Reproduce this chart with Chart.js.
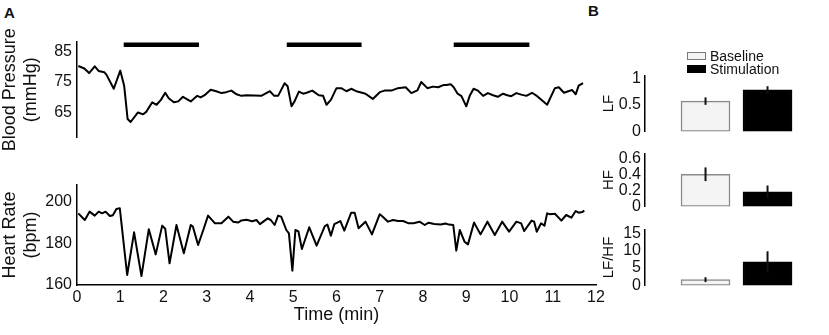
<!DOCTYPE html>
<html>
<head>
<meta charset="utf-8">
<script src="https://cdn.jsdelivr.net/npm/chart.js@4.4.1/dist/chart.umd.min.js"></script>
<style>
  html, body { margin: 0; padding: 0; background: #fff; }
  body { width: 829px; height: 335px; position: relative; overflow: hidden;
         font-family: 'Liberation Sans', Arial, sans-serif; color: #111; }
  .box { position: absolute; }
  .panel { position: absolute; font-weight: bold; font-size: 15px; line-height: 15px; }
  .leg { position: absolute; left: 687px; height: 14px; display: flex; align-items: center;
         font-size: 14px; line-height: 14px; }
  .leg i { display: inline-block; width: 19px; height: 8px; margin-right: 4px; box-sizing: border-box; }
</style>
</head>
<body>
<div class="panel" style="left:4px;top:5px">A</div>
<div class="panel" style="left:588px;top:3px">B</div>

<div class="box" style="left:0;top:0;width:610px;height:152px"><canvas id="bp"></canvas></div>
<div class="box" style="left:0;top:160px;width:610px;height:175px"><canvas id="hr"></canvas></div>
<div class="box" style="left:600px;top:62px;width:229px;height:83px"><canvas id="lf"></canvas></div>
<div class="box" style="left:600px;top:140px;width:229px;height:80px"><canvas id="hf"></canvas></div>
<div class="box" style="left:600px;top:216px;width:229px;height:83px"><canvas id="ratio"></canvas></div>

<div class="leg" style="top:49px"><i style="background:#f4f4f4;border:1px solid #777"></i>Baseline</div>
<div class="leg" style="top:62px"><i style="background:#000"></i>Stimulation</div>

<script>
// Panel A: time (min) vs blood pressure / heart rate
const bpTime = [0.03, 0.17, 0.28, 0.41, 0.5, 0.63, 0.68, 0.85, 1.0, 1.09, 1.17, 1.24, 1.41, 1.53, 1.6,
  1.74, 1.84, 1.94, 2.04, 2.12, 2.24, 2.34, 2.45, 2.53, 2.63, 2.78, 2.86, 2.95, 3.09, 3.22, 3.34, 3.45,
  3.57, 3.69, 3.8, 3.92, 4.26, 4.46, 4.56, 4.65, 4.8, 4.87, 4.96, 5.03, 5.13, 5.23, 5.31, 5.44, 5.59,
  5.69, 5.77, 5.87, 6.0, 6.11, 6.23, 6.34, 6.48, 6.59, 6.67, 6.84, 7.0, 7.11, 7.27, 7.42, 7.6, 7.73,
  7.87, 7.96, 8.1, 8.23, 8.35, 8.47, 8.54, 8.64, 8.71, 8.8, 8.89, 9.0, 9.08, 9.17, 9.27, 9.39, 9.5,
  9.62, 9.73, 9.85, 9.95, 10.04, 10.16, 10.27, 10.39, 10.52, 10.64, 10.77, 10.87, 11.05, 11.14, 11.26,
  11.36, 11.45, 11.53, 11.6, 11.7]
const bpValues = [80.2, 79.4, 77.9, 80.1, 78.6, 78.2, 77.4, 72.8, 78.7, 73.8, 63, 62, 65.1, 64.5, 65.3,
  68.4, 67.6, 69.2, 71.5, 69.7, 68.4, 68.7, 70.2, 69.5, 68.7, 70.5, 70, 70.7, 72.5, 72, 71.4, 71.7,
  72.2, 71, 70.5, 70.7, 70.5, 72, 70.5, 70.5, 74.6, 73.6, 67.1, 68.7, 71.9, 71.2, 71.5, 72.2, 70.7,
  70.5, 67.6, 69.2, 73, 73, 72, 72.8, 71.9, 71.5, 71.2, 69.5, 71.7, 72.2, 72.2, 73, 73.3, 71.4,
  72.3, 75, 73, 73.5, 73.3, 74, 74, 74.3, 73.3, 71.2, 70.4, 67.1, 70.5, 72.8, 72.2, 70.5, 71.4,
  70.7, 70.2, 71.2, 70.7, 70.4, 71.4, 70.9, 70.5, 71.5, 70.4, 68.8, 67.6, 73, 73.3, 71.5,
  72, 72.4, 71, 73.8, 74.6]

const hrTime = [0.03, 0.18, 0.29, 0.41, 0.5, 0.58, 0.66, 0.76, 0.83, 0.91, 0.99, 1.16, 1.32, 1.49, 1.66,
  1.82, 1.97, 2.04, 2.14, 2.3, 2.47, 2.63, 2.68, 2.8, 2.92, 3.03, 3.19, 3.34, 3.5, 3.61, 3.73, 3.8,
  3.92, 4.05, 4.15, 4.23, 4.41, 4.48, 4.57, 4.65, 4.72, 4.84, 4.9, 4.98, 5.05, 5.12, 5.2, 5.37, 5.54,
  5.73, 5.79, 5.87, 5.95, 6.09, 6.18, 6.34, 6.42, 6.51, 6.67, 6.82, 7.0, 7.07, 7.19, 7.31, 7.42, 7.54,
  7.67, 7.78, 7.92, 8.04, 8.13, 8.26, 8.41, 8.52, 8.6, 8.7, 8.77, 8.85, 8.96, 9.04, 9.18, 9.33, 9.49,
  9.66, 9.83, 9.99, 10.16, 10.27, 10.34, 10.51, 10.57, 10.63, 10.73, 10.81, 10.87, 10.93, 11.05, 11.2,
  11.31, 11.43, 11.53, 11.6, 11.68, 11.73]
const hrValues = [194.4, 191.2, 195.2, 193.3, 195.2, 194.4, 195.2, 193.1, 193.5, 196.5, 196.8, 164.8,
  185.3, 164.3, 186.8, 174.7, 188.5, 187, 170.4, 188.8, 175.2, 188.8, 188, 179.2, 186.4, 193.3, 189.6,
  189.6, 192.8, 190.4, 190, 191, 191.3, 190.6, 191.2, 189.2, 192, 191.2, 188.8, 193.3, 192.8, 186.4,
  184.8, 166.9, 186.4, 185.7, 177.3, 187.7, 178.9, 188.3, 189, 183.7, 189.2, 190.7, 186.1, 194.7,
  194.7, 187.2, 190.4, 184.3, 194, 192.8, 190.4, 191.2, 190.7, 190.7, 189.6, 189.6, 190.4, 188.8,
  189.9, 189.3, 189, 189.5, 189, 188.8, 176.5, 186.4, 180.8, 179.5, 190, 184.3, 190.4, 184, 190.4,
  185.6, 190.4, 189.6, 185.9, 190.9, 190.4, 185.6, 189.6, 188.5, 194.4, 194, 194.2, 190.9, 193.6,
  192.3, 195.5, 194.7, 195, 195.7]

// stimulation periods (min), drawn as thick bars above the BP trace
const stimStart = [1.08, 4.85, 8.71]
const stimEnd = [2.82, 6.58, 10.46]
const STIM_LEVEL = 87.1

const bpTicks = [65, 75, 85]
const hrTicks = [160, 180, 200]

// Panel B: spectral power, baseline vs stimulation
const categories = ['Baseline', 'Stimulation']
const lfValues = [0.57, 0.78]
const lfErrors = [0.07, 0.07]
const hfValues = [0.4, 0.18]
const hfErrors = [0.085, 0.08]
const ratioValues = [1.65, 6.8]
const ratioErrors = [0.7, 3.0]
const lfTicks = [0, 0.5, 1]
const hfTicks = [0, 0.2, 0.4, 0.6]
const ratioTicks = [0, 5, 10, 15]

Chart.defaults.font.family = "'Liberation Sans', Arial, sans-serif"
Chart.defaults.color = '#111'
Chart.defaults.animation = false
Chart.defaults.events = []
Chart.defaults.plugins.legend.display = false
Chart.defaults.plugins.tooltip.enabled = false

const axisBorder = { display: true, color: '#000', width: 1.5 }
const noGrid = { display: false, drawTicks: false }
const toPoints = (xs, ys) => xs.map((x, i) => ({ x, y: ys[i] }))
const fixedTicks = (vals) => (scale) => { scale.ticks = vals.map((v) => ({ value: v })) }
const plainLabel = (v) => String(v)

function traceChart(id, points, yMin, yMax, ticks, title, padding, showX, extra) {
  const x = {
    type: 'linear', min: 0, max: 12, display: showX,
    grid: noGrid, border: axisBorder,
    ticks: { stepSize: 1, font: { size: 16 }, padding: 3, maxRotation: 0, autoSkip: false },
    title: { display: true, text: 'Time (min)', font: { size: 18, lineHeight: 1.15 },
             padding: { top: 0, bottom: 10 } }
  }
  if (showX) x.afterFit = (s) => { s.height = 50 }

  return new Chart(document.getElementById(id), {
    type: 'line',
    data: {
      datasets: [
        { data: points, borderColor: '#000', borderWidth: 2, pointRadius: 0,
          borderJoinStyle: 'round', tension: 0 },
        ...(extra || [])
      ]
    },
    options: {
      responsive: true,
      maintainAspectRatio: false,
      layout: { padding },
      scales: {
        x,
        y: {
          min: yMin, max: yMax,
          grid: noGrid, border: axisBorder,
          afterBuildTicks: fixedTicks(ticks),
          ticks: { font: { size: 16 }, padding: 5, autoSkip: false, callback: plainLabel },
          title: { display: true, text: title, font: { size: 18, lineHeight: 1.15 }, padding: 0 },
          afterFit: (s) => { s.width = 77 }
        }
      }
    }
  })
}

// stimulation bars: one line dataset broken by null gaps
const stimPoints = stimStart.flatMap((s, i) => [
  { x: s, y: STIM_LEVEL }, { x: stimEnd[i], y: STIM_LEVEL }, { x: stimEnd[i], y: null }
])

traceChart('bp', toPoints(bpTime, bpValues), 57, 88, bpTicks, ['Blood Pressure', '(mmHg)'],
  { top: 42, bottom: 10, right: 14 }, false,
  [{ data: stimPoints, borderColor: '#000', borderWidth: 4.5, pointRadius: 0,
     borderCapStyle: 'butt', spanGaps: false, clip: false }])

traceChart('hr', toPoints(hrTime, hrValues), 160, 208, hrTicks, ['Heart Rate', '(bpm)'],
  { top: 25, right: 14 }, true)

const errorBars = {
  id: 'errorBars',
  afterDatasetsDraw(chart) {
    const { ctx } = chart
    const y = chart.scales.y
    ctx.save()
    ctx.strokeStyle = '#111'
    ctx.lineWidth = 2
    chart.data.datasets.forEach((ds, i) => {
      chart.getDatasetMeta(i).data.forEach((bar, j) => {
        const v = ds.data[j].y
        const e = ds.errors[j]
        ctx.beginPath()
        ctx.moveTo(bar.x, y.getPixelForValue(v - e))
        ctx.lineTo(bar.x, y.getPixelForValue(v + e))
        ctx.stroke()
      })
    })
    ctx.restore()
  }
}

const barFill = ['#f4f4f4', '#000']
const barEdge = ['#8a8a8a', '#000']

function barChart(id, title, values, errors, yMax, ticks) {
  return new Chart(document.getElementById(id), {
    type: 'bar',
    data: {
      datasets: categories.map((c, i) => ({
        label: c,
        data: [{ x: i, y: values[i] }],
        errors: [errors[i]],
        backgroundColor: barFill[i],
        borderColor: barEdge[i],
        borderWidth: 1.5,
        borderSkipped: false
      }))
    },
    options: {
      responsive: true,
      maintainAspectRatio: false,
      layout: { padding: { top: 12, bottom: 10, right: 10 } },
      datasets: { bar: { grouped: false, barThickness: 49 } },
      scales: {
        x: { type: 'linear', min: -0.976, max: 1.83, offset: false, display: false },
        y: {
          min: 0, max: yMax,
          grid: noGrid, border: axisBorder,
          afterBuildTicks: fixedTicks(ticks),
          ticks: { font: { size: 16 }, padding: 4, autoSkip: false, callback: plainLabel },
          title: { display: true, text: title, font: { size: 15, lineHeight: 1.2 }, padding: 0 },
          afterFit: (s) => { s.width = 45 }
        }
      }
    },
    plugins: [errorBars]
  })
}

barChart('lf', 'LF', lfValues, lfErrors, 1.05, lfTicks)
barChart('hf', 'HF', hfValues, hfErrors, 0.657, hfTicks)
barChart('ratio', 'LF/HF', ratioValues, ratioErrors, 16.05, ratioTicks)
</script>
</body>
</html>
